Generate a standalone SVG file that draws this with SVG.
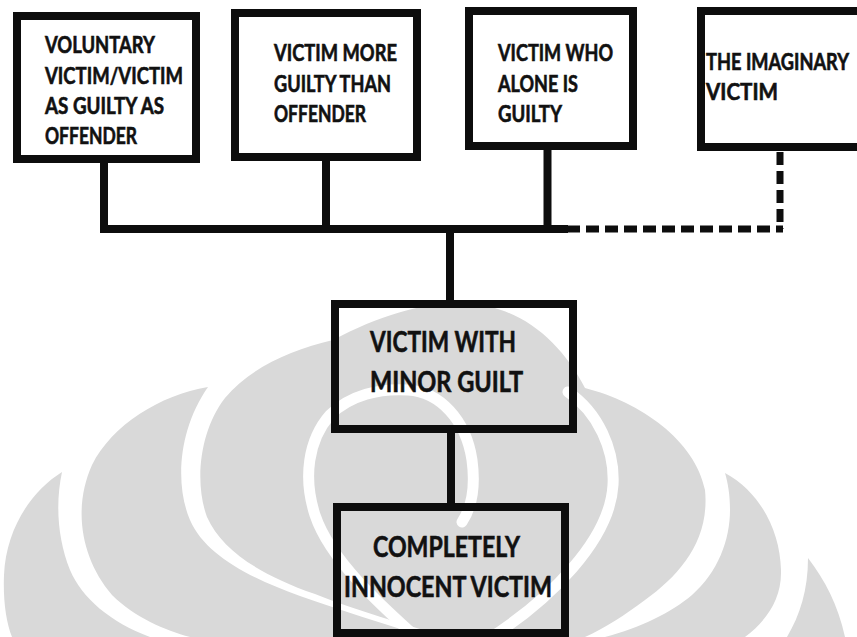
<svg xmlns="http://www.w3.org/2000/svg" width="857" height="637" viewBox="0 0 857 637">
  <style>
    .wm { fill: #d9d9d9; stroke: none; }
    .wmband { fill: none; stroke: #ffffff; stroke-width: 11; stroke-linecap: round; }
    .box { fill: none; stroke: #0d0d0d; stroke-width: 8; }
    .line { fill: none; stroke: #0d0d0d; stroke-width: 8; stroke-linecap: butt; }
    .dash { fill: none; stroke: #0d0d0d; stroke-width: 7; stroke-dasharray: 13 6; }
    .t { font-family: Lato, "Open Sans", "Liberation Sans", sans-serif; font-weight: 700; fill: #111111; stroke: #111111; stroke-width: 0.6; }
    .s { font-size: 22px; }
    .l { font-size: 29px; }
  </style>
  <rect x="0" y="0" width="857" height="637" fill="#ffffff"/>
  <g id="watermark">
    <path class="wm" d="M62,472 C30,492 6,530 4,575 C3,600 6,622 12,637 L150,637 C110,622 82,598 70,570 C58,540 55,505 62,472 Z"/>
    <path class="wm" d="M208,387 C160,395 112,425 92,465 C72,510 82,560 112,595 C135,618 165,630 190,637 L425,637 C385,624 340,610 300,596 C250,578 205,555 190,520 C175,485 178,430 208,387 Z"/>
    <path class="wm" d="M333,340 C380,315 425,302 465,303 C520,306 560,340 585,388 C640,402 695,440 705,490 C710,540 680,575 645,600 C625,615 605,628 585,637 L445,637 C405,624 355,610 315,594 C258,574 222,550 207,517 C194,482 200,430 225,398 C250,368 290,350 333,340 Z"/>
    <path class="wm" d="M725,473 C760,492 780,530 781,570 C782,600 765,622 745,637 L605,637 C640,628 672,612 692,595 C718,572 730,540 730,510 C730,495 728,483 725,473 Z"/>
    <path class="wm" d="M808,558 C825,580 838,605 845,637 L787,637 C800,615 808,590 808,558 Z"/>
    <path class="wmband" d="M425,645 C380,605 330,560 315,515 C303,478 308,440 330,415 C350,395 380,388 408,390 C440,392 466,420 472,460 C476,490 470,510 462,522"/>
    <path class="wmband" d="M568,392 C598,412 615,450 613,485 C610,540 550,600 487,640"/>
  </g>
  <g id="connectors">
    <line class="line" x1="104" y1="160" x2="104" y2="233"/>
    <line class="line" x1="326" y1="158" x2="326" y2="229"/>
    <line class="line" x1="547.5" y1="147" x2="547.5" y2="229"/>
    <line class="line" x1="100" y1="229" x2="568" y2="229"/>
    <line class="line" x1="450" y1="229" x2="450" y2="302"/>
    <line class="line" x1="451" y1="431" x2="451" y2="505"/>
    <line class="dash" x1="567" y1="229" x2="783" y2="229"/>
    <line class="dash" x1="780" y1="152" x2="780" y2="229" stroke-dasharray="17 7"/>
  </g>
  <g id="node-voluntary">
    <rect class="box" x="17" y="16" width="179" height="143"/>
    <text class="t s" x="45" y="53" textLength="110" lengthAdjust="spacingAndGlyphs">VOLUNTARY</text>
    <text class="t s" x="45" y="84" textLength="138" lengthAdjust="spacingAndGlyphs">VICTIM/VICTIM</text>
    <text class="t s" x="45" y="114" textLength="119" lengthAdjust="spacingAndGlyphs">AS GUILTY AS</text>
    <text class="t s" x="45" y="144" textLength="92" lengthAdjust="spacingAndGlyphs">OFFENDER</text>
  </g>
  <g id="node-more-guilty">
    <rect class="box" x="235" y="13" width="182" height="144"/>
    <text class="t s" x="274" y="61" textLength="123" lengthAdjust="spacingAndGlyphs">VICTIM MORE</text>
    <text class="t s" x="274" y="92" textLength="117" lengthAdjust="spacingAndGlyphs">GUILTY THAN</text>
    <text class="t s" x="274" y="122" textLength="92" lengthAdjust="spacingAndGlyphs">OFFENDER</text>
  </g>
  <g id="node-alone-guilty">
    <rect class="box" x="469" y="11" width="164" height="135"/>
    <text class="t s" x="498" y="61" textLength="115" lengthAdjust="spacingAndGlyphs">VICTIM WHO</text>
    <text class="t s" x="498" y="92" textLength="80" lengthAdjust="spacingAndGlyphs">ALONE IS</text>
    <text class="t s" x="498" y="122" textLength="64" lengthAdjust="spacingAndGlyphs">GUILTY</text>
  </g>
  <g id="node-imaginary">
    <rect class="box" x="701" y="11" width="200" height="136"/>
    <text class="t s" x="706" y="70" textLength="143" lengthAdjust="spacingAndGlyphs">THE IMAGINARY</text>
    <text class="t s" x="706" y="100" textLength="72" lengthAdjust="spacingAndGlyphs">VICTIM</text>
  </g>
  <g id="node-minor-guilt">
    <rect class="box" x="335" y="304" width="238" height="125"/>
    <text class="t l" x="370" y="352" textLength="146" lengthAdjust="spacingAndGlyphs">VICTIM WITH</text>
    <text class="t l" x="370" y="392" textLength="153" lengthAdjust="spacingAndGlyphs">MINOR GUILT</text>
  </g>
  <g id="node-innocent">
    <rect class="box" x="337" y="507" width="228" height="126"/>
    <text class="t l" x="373" y="557" textLength="147" lengthAdjust="spacingAndGlyphs">COMPLETELY</text>
    <text class="t l" x="344" y="597" textLength="208" lengthAdjust="spacingAndGlyphs">INNOCENT VICTIM</text>
  </g>
</svg>
